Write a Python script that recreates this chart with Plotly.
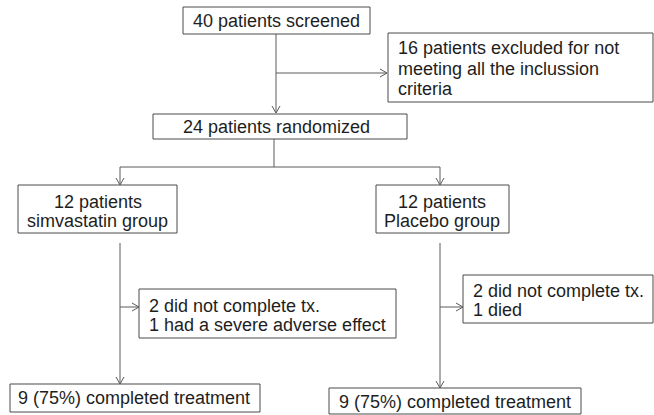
import plotly.graph_objects as go

# ---- content (text of the flow diagram) ----
box_ids = ["screened", "excluded", "randomized", "simva", "placebo",
           "simva_drop", "placebo_drop", "simva_done", "placebo_done"]
box_lines = {
    "screened": ["40 patients screened"],
    "excluded": ["16 patients excluded for not", "meeting all the inclussion", "criteria"],
    "randomized": ["24 patients randomized"],
    "simva": ["12 patients", "simvastatin group"],
    "placebo": ["12 patients", "Placebo group"],
    "simva_drop": ["2 did not complete tx.", "1 had a severe adverse effect"],
    "placebo_drop": ["2 did not complete tx.", "1 died"],
    "simva_done": ["9 (75%) completed treatment"],
    "placebo_done": ["9 (75%) completed treatment"],
}

# ---- layout (pixel geometry of the diagram) ----
W, H = 654, 415
# x0, x1, y0, y1
box_rect = {
    "screened": (183, 370, 7, 34),
    "excluded": (388, 653, 33, 102),
    "randomized": (153, 407, 114, 139),
    "simva": (18, 177, 185, 233),
    "placebo": (376, 509, 185, 233),
    "simva_drop": (139, 396, 289, 338),
    "placebo_drop": (463, 653, 275, 323),
    "simva_done": (10, 260, 384, 412),
    "placebo_done": (329, 581, 388, 414),
}
# text anchor x, alignment, line centre y positions
box_text = {
    "screened": (276.5, "center", [21]),
    "excluded": (396, "left", [48, 68.5, 89]),
    "randomized": (276, "center", [127]),
    "simva": (97.5, "center", [202, 221]),
    "placebo": (442, "center", [202, 221]),
    "simva_drop": (147, "left", [306, 325]),
    "placebo_drop": (471, "left", [291, 310]),
    "simva_done": (16, "left", [398]),
    "placebo_done": (337, "left", [402]),
}
# connectors: list of polylines, last point gets arrowhead if flagged
connectors = [
    ([(276, 34), (276, 113)], "down"),
    ([(276, 73), (387, 73)], "right"),
    ([(274, 139), (274, 167)], None),
    ([(120, 167), (440, 167)], None),
    ([(120, 167), (120, 185)], "down"),
    ([(440, 167), (440, 185)], "down"),
    ([(120, 243), (120, 384)], "down"),
    ([(120, 307), (139, 307)], "right"),
    ([(440, 243), (440, 388)], "down"),
    ([(440, 307), (463, 307)], "right"),
]

LINE_COL = "#5a5a5a"
BOX_COL = "#4a4a4a"
TEXT_COL = "#1e1e1e"
FONT = "Liberation Sans, Arial, sans-serif"
FSIZE = 18

fig = go.Figure()
shapes = []
annotations = []

for bid in box_ids:
    x0, x1, y0, y1 = box_rect[bid]
    shapes.append(dict(type="rect", xref="x", yref="y", x0=x0, x1=x1, y0=y0, y1=y1,
                       line=dict(color=BOX_COL, width=1), fillcolor="rgba(0,0,0,0)"))
    tx, align, ys = box_text[bid]
    for line, ty in zip(box_lines[bid], ys):
        annotations.append(dict(x=tx, y=ty, xref="x", yref="y", text=line, showarrow=False,
                                xanchor=align, yanchor="middle",
                                font=dict(family=FONT, size=FSIZE, color=TEXT_COL)))

for pts, head in connectors:
    path = "M " + " L ".join(f"{x},{y}" for x, y in pts)
    shapes.append(dict(type="path", xref="x", yref="y", path=path,
                       line=dict(color=LINE_COL, width=1)))
    if head:
        hx, hy = pts[-1]
        if head == "down":
            hp = f"M {hx-4},{hy-7} L {hx},{hy} L {hx+4},{hy-7}"
        else:
            hp = f"M {hx-7},{hy-4} L {hx},{hy} L {hx-7},{hy+4}"
        shapes.append(dict(type="path", xref="x", yref="y", path=hp,
                           line=dict(color=LINE_COL, width=1)))

fig.update_layout(
    width=W, height=H,
    margin=dict(l=0, r=0, t=0, b=0),
    paper_bgcolor="white", plot_bgcolor="white",
    xaxis=dict(range=[0, W], visible=False, fixedrange=True),
    yaxis=dict(range=[H, 0], visible=False, fixedrange=True),
    shapes=shapes, annotations=annotations, showlegend=False,
)
fig.write_html(
    "out.html",
    config={"displayModeBar": False},
    post_script="document.body.style.margin='0';document.body.style.padding='0';"
                "document.body.style.overflow='hidden';",
)
